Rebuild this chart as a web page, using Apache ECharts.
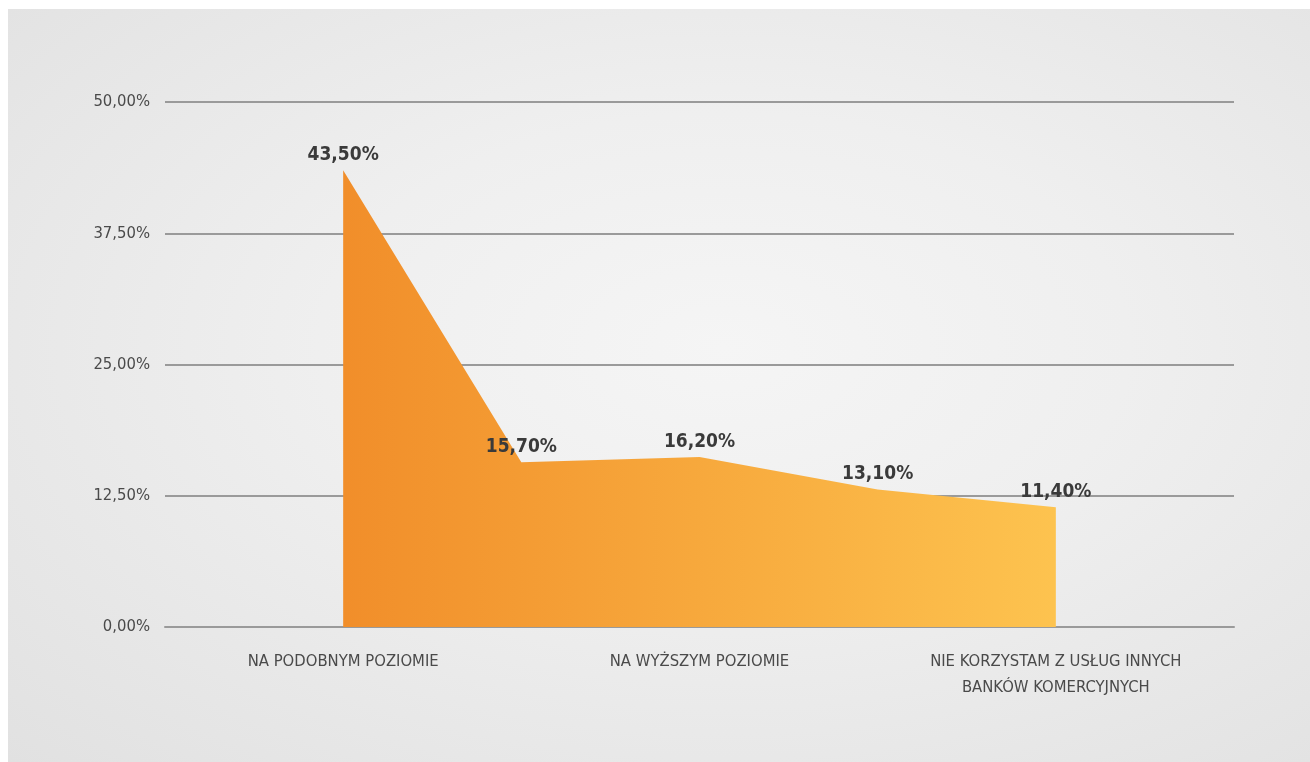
<!DOCTYPE html>
<html>
<head>
<meta charset="utf-8">
<script src="https://cdn.jsdelivr.net/npm/echarts@6/dist/echarts.min.js"></script>
<style>
  html, body { margin: 0; padding: 0; background: #fff; }
  #panel {
    position: absolute; left: 8px; top: 9px; width: 1302px; height: 753px;
    background: radial-gradient(ellipse at 55% 45%, #f5f5f5 0%, #efefef 40%, #e1e1e1 100%);
  }
  #chart { width: 1302px; height: 753px; }
</style>
</head>
<body>
<div id="panel"><div id="chart"></div></div>
<script>
// pusty punkt na początku i końcu osi, żeby pole zaczynało się od drugiej kolumny
let categories = ['', 'NA PODOBNYM POZIOMIE', '', 'NA WYŻSZYM POZIOMIE', '', 'NIE KORZYSTAM Z USŁUG INNYCH\nBANKÓW KOMERCYJNYCH', '']
let values = [null, 43.5, 15.7, 16.2, 13.1, 11.4, null]
let yTicks = [0, 12.5, 25, 37.5, 50]

function pct(v) {
    return v.toFixed(2).replace('.', ',') + '%'
}

let font = "'Liberation Sans Narrow', 'DejaVu Sans Condensed', sans-serif"

let chart = echarts.init(document.getElementById('chart'))
let option = {
    backgroundColor: 'transparent',
    grid: { left: 157, right: 76, top: 93, bottom: 135 },
    xAxis: {
        type: 'category',
        data: categories,
        boundaryGap: false,
        axisLine: { lineStyle: { color: '#9a9a9a', width: 2 } },
        axisTick: { show: false },
        axisLabel: {
            interval: 0,
            margin: 22,
            color: '#4a4a4a',
            fontFamily: font,
            fontSize: 16.5,
            lineHeight: 26,
            align: 'center'
        },
        splitLine: { show: false }
    },
    yAxis: {
        type: 'value',
        min: yTicks[0],
        max: yTicks[yTicks.length - 1],
        interval: 12.5,
        axisLine: { show: false },
        axisTick: { show: false },
        axisLabel: {
            margin: 15,
            color: '#4a4a4a',
            fontFamily: font,
            fontSize: 16.5,
            formatter: pct
        },
        splitLine: { lineStyle: { color: '#9a9a9a', width: 2 } }
    },
    series: [{
        type: 'line',
        data: values,
        symbol: 'circle',
        symbolSize: 1,
        itemStyle: { color: 'rgba(0,0,0,0)' },
        lineStyle: { width: 0 },
        areaStyle: {
            opacity: 1,
            color: new echarts.graphic.LinearGradient(0, 0, 1, 0, [
                { offset: 0, color: '#f18e2a' },
                { offset: 1, color: '#fdc34f' }
            ])
        },
        label: {
            show: true,
            position: 'top',
            distance: 5,
            color: '#3a3a3a',
            fontFamily: font,
            fontWeight: 'bold',
            fontSize: 19,
            formatter: function (p) { return pct(p.value) }
        },
        animation: false
    }]
}
chart.setOption(option)
</script>
</body>
</html>
